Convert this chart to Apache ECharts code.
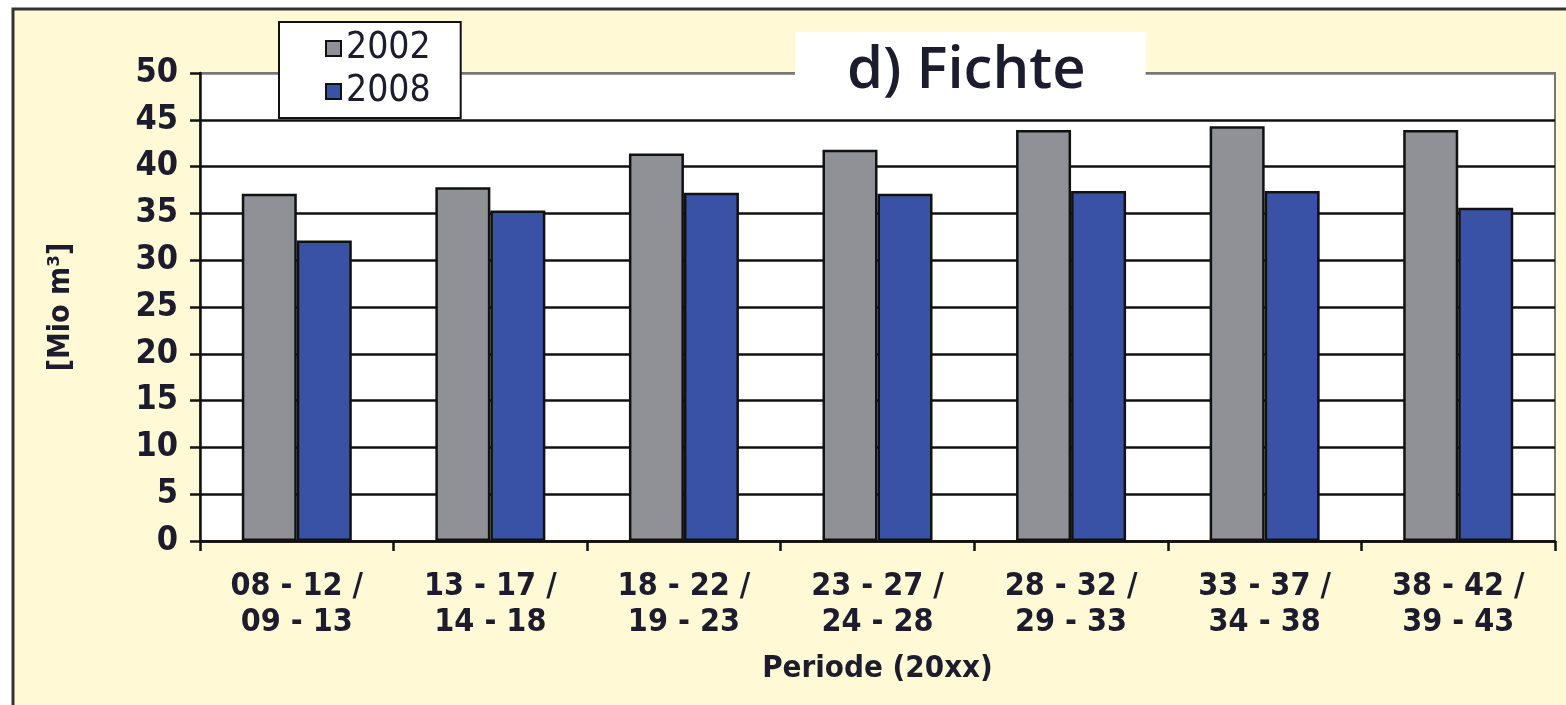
<!DOCTYPE html>
<html>
<head>
<meta charset="utf-8">
<script src="https://cdn.jsdelivr.net/npm/echarts@6/dist/echarts.min.js"></script>
<style>
  html, body { margin: 0; padding: 0; background: #fff; }
  #chart { width: 1566px; height: 705px; }
</style>
</head>
<body>
<div id="chart"></div>
<script>
var periods = ['08 - 12 /\n09 - 13', '13 - 17 /\n14 - 18', '18 - 22 /\n19 - 23', '23 - 27 /\n24 - 28',
  '28 - 32 /\n29 - 33', '33 - 37 /\n34 - 38', '38 - 42 /\n39 - 43']
var values2002 = [37.1, 37.8, 41.4, 41.8, 43.9, 44.3, 43.9]
var values2008 = [32.1, 35.3, 37.2, 37.1, 37.4, 37.4, 35.6]
var yTicks = [0, 5, 10, 15, 20, 25, 30, 35, 40, 45, 50]

var font = '"Liberation Sans Narrow", "DejaVu Sans Condensed", "Liberation Sans", sans-serif'
var ink = '#1c1c2e'

var chart = echarts.init(document.getElementById('chart'))

// last split line (top edge) is grey like the plot frame
var splitColors = yTicks.map(function (t, i) { return i === yTicks.length - 1 ? '#777' : '#111' })

chart.setOption({
  backgroundColor: '#fff',
  animation: false,
  textStyle: { fontFamily: font },
  graphic: [
    {
      type: 'rect',
      z: -10,
      shape: { x: 13, y: 9, width: 1600, height: 720 },
      style: { fill: '#fff9d6', stroke: '#333', lineWidth: 3 }
    }
  ],
  title: {
    text: 'd) Fichte',
    left: 795,
    top: 32,
    backgroundColor: '#fff',
    padding: [5, 60, 2, 52],
    textStyle: {
      fontFamily: '"Open Sans", "Liberation Sans", sans-serif',
      fontSize: 58,
      fontWeight: 600,
      color: ink,
      lineHeight: 68
    }
  },
  legend: {
    orient: 'vertical',
    left: 279,
    top: 22,
    padding: [8, 30, 8, 46],
    itemGap: 6,
    itemWidth: 15,
    itemHeight: 15,
    backgroundColor: '#fff',
    borderColor: '#111',
    borderWidth: 2,
    borderRadius: 0,
    icon: 'rect',
    data: ['2002', '2008'],
    textStyle: { fontSize: 37, fontWeight: 500, color: ink, fontFamily: font }
  },
  grid: {
    left: 200,
    right: 11,
    top: 73,
    bottom: 164,
    show: true,
    backgroundColor: '#fff',
    borderColor: '#777',
    borderWidth: 2
  },
  xAxis: {
    type: 'category',
    data: periods,
    name: 'Periode (20xx)',
    nameLocation: 'middle',
    nameGap: 112,
    nameTextStyle: { fontSize: 31, fontWeight: 'bold', color: ink, fontFamily: font },
    axisLine: { lineStyle: { color: '#111', width: 2.5 } },
    axisTick: { show: true, length: 10, lineStyle: { color: '#111', width: 2.5 } },
    axisLabel: {
      margin: 28,
      fontSize: 32,
      fontWeight: 'bold',
      color: ink,
      lineHeight: 36,
      fontFamily: font
    }
  },
  yAxis: {
    type: 'value',
    min: 0,
    max: 50,
    interval: 5,
    name: '[Mio m³]',
    nameLocation: 'middle',
    nameGap: 124,
    nameTextStyle: { fontSize: 30, fontWeight: 'bold', color: ink, fontFamily: font },
    axisLine: { show: true, lineStyle: { color: '#111', width: 2.5 } },
    axisTick: { show: true, length: 10, lineStyle: { color: '#111', width: 2.5 } },
    axisLabel: { margin: 22, fontSize: 34, fontWeight: 'bold', color: ink, fontFamily: font },
    splitLine: { show: true, lineStyle: { color: splitColors, width: 2.5 } }
  },
  series: [
    {
      name: '2002',
      type: 'bar',
      data: values2002,
      barWidth: 55,
      barGap: '0%',
      itemStyle: { color: '#8f9196', borderColor: '#111', borderWidth: 2.5 }
    },
    {
      name: '2008',
      type: 'bar',
      data: values2008,
      barWidth: 55,
      itemStyle: { color: '#3a52a5', borderColor: '#111', borderWidth: 2.5 }
    }
  ]
})
</script>
</body>
</html>
